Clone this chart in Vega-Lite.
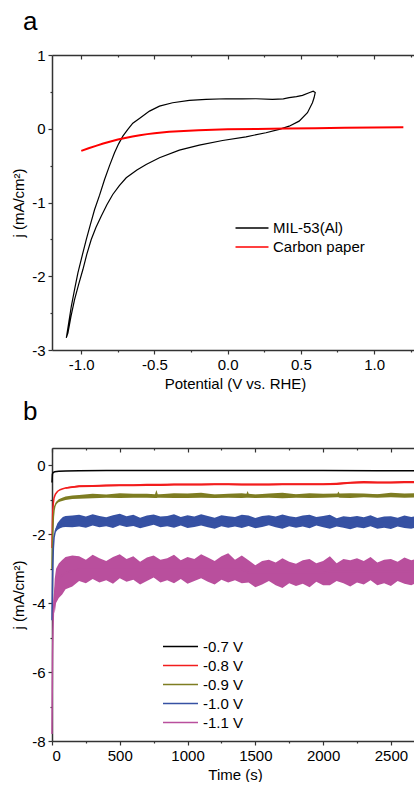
{
  "$schema": "https://vega.github.io/schema/vega-lite/v6.json",
  "padding": {"left": 11, "top": 9, "right": 0, "bottom": 0},
  "config": {
    "view": {"stroke": null},
    "font": "Liberation Sans",
    "axis": {"grid": false, "domainColor": "#333", "domainWidth": 1.5, "tickColor": "#333", "tickWidth": 1.2, "labelColor": "#000", "titleColor": "#000", "labelFont": "Liberation Sans", "titleFont": "Liberation Sans", "labelFontSize": 15, "titleFontSize": 15, "titleFontWeight": "normal"},
    "legend": {"labelFont": "Liberation Sans", "labelFontSize": 15, "labelColor": "#000"},
    "title": {"font": "Liberation Sans", "fontWeight": "normal", "color": "#000"}
  },
  "spacing": 98,
  "bounds": "flush",
  "resolve": {"scale": {"color": "independent"}, "legend": {"color": "independent"}},
  "vconcat": [
    {
      "width": 366, "height": 295,
      "title": {"text": "a", "anchor": "start", "frame": "group", "dx": -29, "fontSize": 26, "baseline": "alphabetic", "offset": -8},
      "resolve": {"axis": {"x": "independent", "y": "independent"}},
      "layer": [
        {
          "data": {"values": [
            {"s":"MIL-53(Al)","i":1,"x":-1.102,"y":-2.836},{"s":"MIL-53(Al)","i":2,"x":-1.085,"y":-2.62},{"s":"MIL-53(Al)","i":3,"x":-1.068,"y":-2.407},{"s":"MIL-53(Al)","i":4,"x":-1.045,"y":-2.17},{"s":"MIL-53(Al)","i":5,"x":-1.023,"y":-1.954},{"s":"MIL-53(Al)","i":6,"x":-0.995,"y":-1.73},{"s":"MIL-53(Al)","i":7,"x":-0.966,"y":-1.502},{"s":"MIL-53(Al)","i":8,"x":-0.938,"y":-1.3},{"s":"MIL-53(Al)","i":9,"x":-0.909,"y":-1.095},{"s":"MIL-53(Al)","i":10,"x":-0.875,"y":-0.9},{"s":"MIL-53(Al)","i":11,"x":-0.841,"y":-0.688},{"s":"MIL-53(Al)","i":12,"x":-0.807,"y":-0.5},{"s":"MIL-53(Al)","i":13,"x":-0.773,"y":-0.326},{"s":"MIL-53(Al)","i":14,"x":-0.745,"y":-0.205},{"s":"MIL-53(Al)","i":15,"x":-0.716,"y":-0.1},{"s":"MIL-53(Al)","i":16,"x":-0.682,"y":-0.01},{"s":"MIL-53(Al)","i":17,"x":-0.648,"y":0.075},{"s":"MIL-53(Al)","i":18,"x":-0.603,"y":0.14},{"s":"MIL-53(Al)","i":19,"x":-0.534,"y":0.239},{"s":"MIL-53(Al)","i":20,"x":-0.466,"y":0.307},{"s":"MIL-53(Al)","i":21,"x":-0.376,"y":0.353},{"s":"MIL-53(Al)","i":22,"x":-0.262,"y":0.384},{"s":"MIL-53(Al)","i":23,"x":-0.148,"y":0.398},{"s":"MIL-53(Al)","i":24,"x":-0.012,"y":0.407},{"s":"MIL-53(Al)","i":25,"x":0.1,"y":0.405},{"s":"MIL-53(Al)","i":26,"x":0.193,"y":0.407},{"s":"MIL-53(Al)","i":27,"x":0.306,"y":0.398},{"s":"MIL-53(Al)","i":28,"x":0.38,"y":0.405},{"s":"MIL-53(Al)","i":29,"x":0.42,"y":0.421},{"s":"MIL-53(Al)","i":30,"x":0.47,"y":0.435},{"s":"MIL-53(Al)","i":31,"x":0.511,"y":0.452},{"s":"MIL-53(Al)","i":32,"x":0.556,"y":0.488},{"s":"MIL-53(Al)","i":33,"x":0.584,"y":0.51},{"s":"MIL-53(Al)","i":34,"x":0.598,"y":0.49},{"s":"MIL-53(Al)","i":35,"x":0.59,"y":0.42},{"s":"MIL-53(Al)","i":36,"x":0.579,"y":0.353},{"s":"MIL-53(Al)","i":37,"x":0.545,"y":0.217},{"s":"MIL-53(Al)","i":38,"x":0.488,"y":0.103},{"s":"MIL-53(Al)","i":39,"x":0.42,"y":0.035},{"s":"MIL-53(Al)","i":40,"x":0.352,"y":-0.009},{"s":"MIL-53(Al)","i":41,"x":0.261,"y":-0.054},{"s":"MIL-53(Al)","i":42,"x":0.125,"y":-0.109},{"s":"MIL-53(Al)","i":43,"x":-0.035,"y":-0.159},{"s":"MIL-53(Al)","i":44,"x":-0.194,"y":-0.223},{"s":"MIL-53(Al)","i":45,"x":-0.33,"y":-0.29},{"s":"MIL-53(Al)","i":46,"x":-0.466,"y":-0.393},{"s":"MIL-53(Al)","i":47,"x":-0.557,"y":-0.484},{"s":"MIL-53(Al)","i":48,"x":-0.62,"y":-0.56},{"s":"MIL-53(Al)","i":49,"x":-0.693,"y":-0.665},{"s":"MIL-53(Al)","i":50,"x":-0.74,"y":-0.77},{"s":"MIL-53(Al)","i":51,"x":-0.785,"y":-0.891},{"s":"MIL-53(Al)","i":52,"x":-0.825,"y":-1.03},{"s":"MIL-53(Al)","i":53,"x":-0.864,"y":-1.186},{"s":"MIL-53(Al)","i":54,"x":-0.9,"y":-1.34},{"s":"MIL-53(Al)","i":55,"x":-0.932,"y":-1.502},{"s":"MIL-53(Al)","i":56,"x":-0.962,"y":-1.7},{"s":"MIL-53(Al)","i":57,"x":-0.989,"y":-1.909},{"s":"MIL-53(Al)","i":58,"x":-1.018,"y":-2.11},{"s":"MIL-53(Al)","i":59,"x":-1.046,"y":-2.316},{"s":"MIL-53(Al)","i":60,"x":-1.07,"y":-2.54},{"s":"MIL-53(Al)","i":61,"x":-1.091,"y":-2.768},{"s":"MIL-53(Al)","i":62,"x":-1.1,"y":-2.82}
          ]},
          "mark": {"type": "line", "strokeWidth": 1.2},
          "encoding": {
            "x": {"field": "x", "type": "quantitative", "scale": {"domain": [-1.2, 1.3], "nice": false, "zero": false},
              "axis": {"orient": "bottom", "title": "Potential (V vs. RHE)", "values": [-1, -0.75, -0.5, -0.25, 0, 0.25, 0.5, 0.75, 1, 1.25], "labelExpr": "abs(datum.value*2 - round(datum.value*2)) < 0.001 ? replace(format(datum.value, '.1f'), '\u2212', '-') : ''", "tickSize": {"condition": {"test": "abs(datum.value*2 - round(datum.value*2)) > 0.001", "value": 2}, "value": 4}, "labelPadding": 3, "titlePadding": 4}},
            "y": {"field": "y", "type": "quantitative", "scale": {"domain": [-3, 1], "nice": false, "zero": false},
              "axis": {"orient": "left", "title": "j (mA/cm\u00b2)", "values": [-3, -2.5, -2, -1.5, -1, -0.5, 0, 0.5, 1], "labelExpr": "abs(datum.value - round(datum.value)) < 0.001 ? replace(format(datum.value, 'd'), '\u2212', '-') : ''", "tickSize": {"condition": {"test": "abs(datum.value - round(datum.value)) > 0.001", "value": 2}, "value": 4}, "labelPadding": 3, "minExtent": 22, "maxExtent": 22, "titlePadding": 4}},
            "order": {"field": "i", "type": "quantitative"},
            "color": {"field": "s", "type": "nominal", "scale": {"domain": ["MIL-53(Al)", "Carbon paper"], "range": ["#000000", "#ff0000"]},
              "legend": {"title": null, "orient": "none", "legendX": 191, "legendY": 164, "symbolType": "M-2,0H2", "symbolSize": 272, "symbolStrokeWidth": 1.5, "labelOffset": 12, "rowPadding": 2, "padding": 0}}
          }
        },
        {
          "data": {"values": [
            {"s":"Carbon paper","i":1,"x":-1.0,"y":-0.3},{"s":"Carbon paper","i":2,"x":-0.95,"y":-0.265},{"s":"Carbon paper","i":3,"x":-0.9,"y":-0.232},{"s":"Carbon paper","i":4,"x":-0.85,"y":-0.2},{"s":"Carbon paper","i":5,"x":-0.8,"y":-0.172},{"s":"Carbon paper","i":6,"x":-0.75,"y":-0.147},{"s":"Carbon paper","i":7,"x":-0.7,"y":-0.125},{"s":"Carbon paper","i":8,"x":-0.65,"y":-0.105},{"s":"Carbon paper","i":9,"x":-0.6,"y":-0.088},{"s":"Carbon paper","i":10,"x":-0.55,"y":-0.073},{"s":"Carbon paper","i":11,"x":-0.5,"y":-0.06},{"s":"Carbon paper","i":12,"x":-0.4,"y":-0.042},{"s":"Carbon paper","i":13,"x":-0.3,"y":-0.03},{"s":"Carbon paper","i":14,"x":-0.2,"y":-0.02},{"s":"Carbon paper","i":15,"x":-0.1,"y":-0.013},{"s":"Carbon paper","i":16,"x":0.0,"y":-0.008},{"s":"Carbon paper","i":17,"x":0.2,"y":-0.002},{"s":"Carbon paper","i":18,"x":0.4,"y":0.003},{"s":"Carbon paper","i":19,"x":0.6,"y":0.008},{"s":"Carbon paper","i":20,"x":0.8,"y":0.012},{"s":"Carbon paper","i":21,"x":1.0,"y":0.016},{"s":"Carbon paper","i":22,"x":1.2,"y":0.02}
          ]},
          "mark": {"type": "line", "strokeWidth": 2},
          "encoding": {
            "x": {"field": "x", "type": "quantitative",
              "axis": {"orient": "top", "title": null, "labels": false, "minExtent": 0, "maxExtent": 0, "values": [-1, -0.75, -0.5, -0.25, 0, 0.25, 0.5, 0.75, 1, 1.25], "tickSize": {"condition": {"test": "abs(datum.value*2 - round(datum.value*2)) > 0.001", "value": -2}, "value": -4}}},
            "y": {"field": "y", "type": "quantitative",
              "axis": {"orient": "right", "title": null, "labels": false, "minExtent": 0, "maxExtent": 0, "values": [-3, -2.5, -2, -1.5, -1, -0.5, 0, 0.5, 1], "tickSize": {"condition": {"test": "abs(datum.value - round(datum.value)) > 0.001", "value": -2}, "value": -4}}},
            "order": {"field": "i", "type": "quantitative"},
            "color": {"field": "s", "type": "nominal", "scale": {"domain": ["MIL-53(Al)", "Carbon paper"], "range": ["#000000", "#ff0000"]},
              "legend": {"title": null, "orient": "none", "legendX": 191, "legendY": 164, "symbolType": "M-2,0H2", "symbolSize": 272, "symbolStrokeWidth": 1.5, "labelOffset": 12, "rowPadding": 2, "padding": 0}}
          }
        }
      ]
    },
    {
      "width": 366, "height": 293,
      "title": {"text": "b", "anchor": "start", "frame": "group", "dx": -29, "fontSize": 26, "baseline": "alphabetic", "offset": 1},
      "resolve": {"axis": {"x": "independent", "y": "independent"}},
      "data": {"values": [
        {"s":"-0.7 V","t":0,"v":-0.5},{"s":"-0.7 V","t":3,"v":-0.26},{"s":"-0.7 V","t":8,"v":-0.21},{"s":"-0.7 V","t":20,"v":-0.19},{"s":"-0.7 V","t":50,"v":-0.175},{"s":"-0.7 V","t":100,"v":-0.165},{"s":"-0.7 V","t":200,"v":-0.16},{"s":"-0.7 V","t":400,"v":-0.155},{"s":"-0.7 V","t":800,"v":-0.15},{"s":"-0.7 V","t":1200,"v":-0.15},{"s":"-0.7 V","t":1600,"v":-0.155},{"s":"-0.7 V","t":2000,"v":-0.155},{"s":"-0.7 V","t":2400,"v":-0.16},{"s":"-0.7 V","t":2700,"v":-0.16},

        {"s":"-0.8 V","t":0,"v":-2.4},{"s":"-0.8 V","t":3,"v":-1.7},{"s":"-0.8 V","t":6,"v":-1.3},{"s":"-0.8 V","t":10,"v":-1.1},{"s":"-0.8 V","t":15,"v":-0.95},{"s":"-0.8 V","t":25,"v":-0.84},{"s":"-0.8 V","t":40,"v":-0.76},{"s":"-0.8 V","t":60,"v":-0.71},{"s":"-0.8 V","t":80,"v":-0.68},
        {"s":"-0.8 V","t":100,"v":-0.66,"lo":-0.68,"hi":-0.64},{"s":"-0.8 V","t":150,"v":-0.63,"lo":-0.66,"hi":-0.61},{"s":"-0.8 V","t":200,"v":-0.61,"lo":-0.64,"hi":-0.58},{"s":"-0.8 V","t":300,"v":-0.6,"lo":-0.63,"hi":-0.57},{"s":"-0.8 V","t":400,"v":-0.59,"lo":-0.62,"hi":-0.56},{"s":"-0.8 V","t":500,"v":-0.58,"lo":-0.61,"hi":-0.55},{"s":"-0.8 V","t":600,"v":-0.58,"lo":-0.61,"hi":-0.55},{"s":"-0.8 V","t":700,"v":-0.57,"lo":-0.6,"hi":-0.54},{"s":"-0.8 V","t":800,"v":-0.57,"lo":-0.6,"hi":-0.54},{"s":"-0.8 V","t":900,"v":-0.56,"lo":-0.59,"hi":-0.53},{"s":"-0.8 V","t":1000,"v":-0.56,"lo":-0.59,"hi":-0.53},{"s":"-0.8 V","t":1100,"v":-0.56,"lo":-0.59,"hi":-0.53},{"s":"-0.8 V","t":1200,"v":-0.55,"lo":-0.58,"hi":-0.52},{"s":"-0.8 V","t":1300,"v":-0.55,"lo":-0.58,"hi":-0.52},{"s":"-0.8 V","t":1400,"v":-0.56,"lo":-0.59,"hi":-0.53},{"s":"-0.8 V","t":1500,"v":-0.56,"lo":-0.59,"hi":-0.53},{"s":"-0.8 V","t":1600,"v":-0.56,"lo":-0.59,"hi":-0.53},{"s":"-0.8 V","t":1700,"v":-0.55,"lo":-0.58,"hi":-0.52},{"s":"-0.8 V","t":1800,"v":-0.55,"lo":-0.58,"hi":-0.52},{"s":"-0.8 V","t":1900,"v":-0.55,"lo":-0.58,"hi":-0.52},{"s":"-0.8 V","t":2000,"v":-0.55,"lo":-0.58,"hi":-0.52},{"s":"-0.8 V","t":2100,"v":-0.54,"lo":-0.57,"hi":-0.51},{"s":"-0.8 V","t":2200,"v":-0.51,"lo":-0.54,"hi":-0.48},{"s":"-0.8 V","t":2300,"v":-0.49,"lo":-0.52,"hi":-0.46},{"s":"-0.8 V","t":2400,"v":-0.5,"lo":-0.53,"hi":-0.47},{"s":"-0.8 V","t":2500,"v":-0.5,"lo":-0.53,"hi":-0.47},{"s":"-0.8 V","t":2600,"v":-0.49,"lo":-0.52,"hi":-0.46},{"s":"-0.8 V","t":2700,"v":-0.49,"lo":-0.52,"hi":-0.46},

        {"s":"-0.9 V","t":0,"v":-3.0},{"s":"-0.9 V","t":3,"v":-2.4},{"s":"-0.9 V","t":6,"v":-1.9},{"s":"-0.9 V","t":10,"v":-1.5},{"s":"-0.9 V","t":15,"v":-1.3},{"s":"-0.9 V","t":20,"v":-1.2},
        {"s":"-0.9 V","t":30,"v":-1.1,"lo":-1.13,"hi":-1.07},{"s":"-0.9 V","t":50,"v":-1.03,"lo":-1.07,"hi":-0.99},{"s":"-0.9 V","t":75,"v":-0.99,"lo":-1.04,"hi":-0.94},{"s":"-0.9 V","t":100,"v":-0.96,"lo":-1.01,"hi":-0.91},{"s":"-0.9 V","t":150,"v":-0.93,"lo":-0.98,"hi":-0.88},{"s":"-0.9 V","t":200,"v":-0.92,"lo":-0.97,"hi":-0.86},{"s":"-0.9 V","t":300,"v":-0.9,"lo":-0.96,"hi":-0.83},{"s":"-0.9 V","t":400,"v":-0.89,"lo":-0.94,"hi":-0.85},{"s":"-0.9 V","t":500,"v":-0.89,"lo":-0.95,"hi":-0.81},{"s":"-0.9 V","t":600,"v":-0.89,"lo":-0.94,"hi":-0.83},{"s":"-0.9 V","t":700,"v":-0.89,"lo":-0.94,"hi":-0.83},{"s":"-0.9 V","t":760,"v":-0.89,"lo":-0.95,"hi":-0.84},{"s":"-0.9 V","t":770,"v":-0.89,"lo":-0.95,"hi":-0.72},{"s":"-0.9 V","t":780,"v":-0.89,"lo":-0.94,"hi":-0.84},{"s":"-0.9 V","t":800,"v":-0.88,"lo":-0.94,"hi":-0.84},{"s":"-0.9 V","t":900,"v":-0.88,"lo":-0.95,"hi":-0.81},{"s":"-0.9 V","t":1000,"v":-0.88,"lo":-0.95,"hi":-0.82},{"s":"-0.9 V","t":1100,"v":-0.88,"lo":-0.94,"hi":-0.8},{"s":"-0.9 V","t":1200,"v":-0.88,"lo":-0.95,"hi":-0.85},{"s":"-0.9 V","t":1300,"v":-0.88,"lo":-0.94,"hi":-0.83},{"s":"-0.9 V","t":1400,"v":-0.88,"lo":-0.95,"hi":-0.81},{"s":"-0.9 V","t":1435,"v":-0.88,"lo":-0.94,"hi":-0.83},{"s":"-0.9 V","t":1443,"v":-0.88,"lo":-0.94,"hi":-0.75},{"s":"-0.9 V","t":1451,"v":-0.88,"lo":-0.94,"hi":-0.83},{"s":"-0.9 V","t":1500,"v":-0.88,"lo":-0.95,"hi":-0.85},{"s":"-0.9 V","t":1600,"v":-0.88,"lo":-0.94,"hi":-0.82},{"s":"-0.9 V","t":1700,"v":-0.88,"lo":-0.96,"hi":-0.8},{"s":"-0.9 V","t":1800,"v":-0.88,"lo":-0.94,"hi":-0.84},{"s":"-0.9 V","t":1900,"v":-0.88,"lo":-0.95,"hi":-0.81},{"s":"-0.9 V","t":2000,"v":-0.88,"lo":-0.94,"hi":-0.83},{"s":"-0.9 V","t":2105,"v":-0.87,"lo":-0.93,"hi":-0.82},{"s":"-0.9 V","t":2113,"v":-0.87,"lo":-0.93,"hi":-0.76},{"s":"-0.9 V","t":2121,"v":-0.87,"lo":-0.94,"hi":-0.82},{"s":"-0.9 V","t":2200,"v":-0.87,"lo":-0.95,"hi":-0.81},{"s":"-0.9 V","t":2300,"v":-0.87,"lo":-0.93,"hi":-0.82},{"s":"-0.9 V","t":2400,"v":-0.87,"lo":-0.94,"hi":-0.84},{"s":"-0.9 V","t":2500,"v":-0.87,"lo":-0.93,"hi":-0.8},{"s":"-0.9 V","t":2600,"v":-0.87,"lo":-0.94,"hi":-0.82},{"s":"-0.9 V","t":2700,"v":-0.87,"lo":-0.93,"hi":-0.81},

        {"s":"-1.0 V","t":0,"v":-4.5},{"s":"-1.0 V","t":3,"v":-3.6},{"s":"-1.0 V","t":6,"v":-2.9},{"s":"-1.0 V","t":10,"v":-2.4},{"s":"-1.0 V","t":15,"v":-2.1},
        {"s":"-1.0 V","t":25,"v":-1.9,"lo":-1.96,"hi":-1.84},{"s":"-1.0 V","t":40,"v":-1.78,"lo":-1.88,"hi":-1.68},{"s":"-1.0 V","t":60,"v":-1.7,"lo":-1.83,"hi":-1.58},{"s":"-1.0 V","t":80,"v":-1.66,"lo":-1.8,"hi":-1.5},{"s":"-1.0 V","t":100,"v":-1.64,"lo":-1.79,"hi":-1.47},{"s":"-1.0 V","t":150,"v":-1.63,"lo":-1.8,"hi":-1.46},
        {"s":"-1.0 V","t":200,"v":-1.62,"lo":-1.78,"hi":-1.44},{"s":"-1.0 V","t":250,"v":-1.62,"lo":-1.81,"hi":-1.49},{"s":"-1.0 V","t":300,"v":-1.62,"lo":-1.75,"hi":-1.42},{"s":"-1.0 V","t":350,"v":-1.62,"lo":-1.8,"hi":-1.47},{"s":"-1.0 V","t":400,"v":-1.62,"lo":-1.77,"hi":-1.51},{"s":"-1.0 V","t":450,"v":-1.62,"lo":-1.82,"hi":-1.45},{"s":"-1.0 V","t":500,"v":-1.62,"lo":-1.74,"hi":-1.41},{"s":"-1.0 V","t":550,"v":-1.62,"lo":-1.79,"hi":-1.48},{"s":"-1.0 V","t":600,"v":-1.62,"lo":-1.76,"hi":-1.44},{"s":"-1.0 V","t":650,"v":-1.62,"lo":-1.83,"hi":-1.52},{"s":"-1.0 V","t":700,"v":-1.62,"lo":-1.78,"hi":-1.46},{"s":"-1.0 V","t":750,"v":-1.62,"lo":-1.73,"hi":-1.43},{"s":"-1.0 V","t":800,"v":-1.62,"lo":-1.8,"hi":-1.49},{"s":"-1.0 V","t":850,"v":-1.62,"lo":-1.77,"hi":-1.47},{"s":"-1.0 V","t":900,"v":-1.62,"lo":-1.81,"hi":-1.42},{"s":"-1.0 V","t":950,"v":-1.62,"lo":-1.75,"hi":-1.5},{"s":"-1.0 V","t":1000,"v":-1.62,"lo":-1.82,"hi":-1.45},{"s":"-1.0 V","t":1050,"v":-1.63,"lo":-1.79,"hi":-1.49},{"s":"-1.0 V","t":1100,"v":-1.63,"lo":-1.75,"hi":-1.42},{"s":"-1.0 V","t":1150,"v":-1.63,"lo":-1.8,"hi":-1.47},{"s":"-1.0 V","t":1200,"v":-1.63,"lo":-1.84,"hi":-1.52},{"s":"-1.0 V","t":1250,"v":-1.63,"lo":-1.77,"hi":-1.45},{"s":"-1.0 V","t":1300,"v":-1.63,"lo":-1.81,"hi":-1.48},{"s":"-1.0 V","t":1350,"v":-1.63,"lo":-1.78,"hi":-1.5},{"s":"-1.0 V","t":1400,"v":-1.63,"lo":-1.82,"hi":-1.44},{"s":"-1.0 V","t":1450,"v":-1.63,"lo":-1.76,"hi":-1.46},{"s":"-1.0 V","t":1500,"v":-1.63,"lo":-1.83,"hi":-1.53},{"s":"-1.0 V","t":1550,"v":-1.63,"lo":-1.79,"hi":-1.47},{"s":"-1.0 V","t":1600,"v":-1.63,"lo":-1.74,"hi":-1.45},{"s":"-1.0 V","t":1650,"v":-1.63,"lo":-1.8,"hi":-1.49},{"s":"-1.0 V","t":1700,"v":-1.63,"lo":-1.84,"hi":-1.43},{"s":"-1.0 V","t":1750,"v":-1.63,"lo":-1.77,"hi":-1.48},{"s":"-1.0 V","t":1800,"v":-1.63,"lo":-1.81,"hi":-1.51},{"s":"-1.0 V","t":1850,"v":-1.63,"lo":-1.78,"hi":-1.46},{"s":"-1.0 V","t":1900,"v":-1.63,"lo":-1.83,"hi":-1.44},{"s":"-1.0 V","t":1950,"v":-1.63,"lo":-1.75,"hi":-1.5},{"s":"-1.0 V","t":2000,"v":-1.63,"lo":-1.8,"hi":-1.47},{"s":"-1.0 V","t":2050,"v":-1.65,"lo":-1.84,"hi":-1.44},{"s":"-1.0 V","t":2100,"v":-1.65,"lo":-1.78,"hi":-1.54},{"s":"-1.0 V","t":2150,"v":-1.65,"lo":-1.81,"hi":-1.48},{"s":"-1.0 V","t":2200,"v":-1.65,"lo":-1.86,"hi":-1.5},{"s":"-1.0 V","t":2250,"v":-1.65,"lo":-1.8,"hi":-1.47},{"s":"-1.0 V","t":2300,"v":-1.65,"lo":-1.83,"hi":-1.51},{"s":"-1.0 V","t":2350,"v":-1.65,"lo":-1.77,"hi":-1.45},{"s":"-1.0 V","t":2400,"v":-1.65,"lo":-1.84,"hi":-1.53},{"s":"-1.0 V","t":2450,"v":-1.65,"lo":-1.81,"hi":-1.49},{"s":"-1.0 V","t":2500,"v":-1.65,"lo":-1.85,"hi":-1.48},{"s":"-1.0 V","t":2550,"v":-1.65,"lo":-1.78,"hi":-1.52},{"s":"-1.0 V","t":2600,"v":-1.65,"lo":-1.82,"hi":-1.46},{"s":"-1.0 V","t":2650,"v":-1.65,"lo":-1.84,"hi":-1.5},{"s":"-1.0 V","t":2700,"v":-1.65,"lo":-1.8,"hi":-1.47},

        {"s":"-1.1 V","t":0,"v":-7.8},{"s":"-1.1 V","t":2,"v":-6.5},{"s":"-1.1 V","t":4,"v":-5.5},{"s":"-1.1 V","t":7,"v":-4.8},{"s":"-1.1 V","t":10,"v":-4.3},
        {"s":"-1.1 V","t":15,"v":-3.9,"lo":-4.1,"hi":-3.7},{"s":"-1.1 V","t":20,"v":-3.7,"lo":-4.3,"hi":-3.3},{"s":"-1.1 V","t":30,"v":-3.45,"lo":-4.0,"hi":-3.0},{"s":"-1.1 V","t":50,"v":-3.3,"lo":-3.85,"hi":-2.85},{"s":"-1.1 V","t":75,"v":-3.2,"lo":-3.75,"hi":-2.75},{"s":"-1.1 V","t":100,"v":-3.12,"lo":-3.6,"hi":-2.66},{"s":"-1.1 V","t":150,"v":-3.07,"lo":-3.52,"hi":-2.62},
        {"s":"-1.1 V","t":200,"v":-3.02,"lo":-3.36,"hi":-2.64},{"s":"-1.1 V","t":250,"v":-3.02,"lo":-3.42,"hi":-2.74},{"s":"-1.1 V","t":300,"v":-3.02,"lo":-3.3,"hi":-2.6},{"s":"-1.1 V","t":350,"v":-3.02,"lo":-3.4,"hi":-2.7},{"s":"-1.1 V","t":400,"v":-3.02,"lo":-3.34,"hi":-2.78},{"s":"-1.1 V","t":450,"v":-3.02,"lo":-3.44,"hi":-2.66},{"s":"-1.1 V","t":500,"v":-3.02,"lo":-3.28,"hi":-2.58},{"s":"-1.1 V","t":550,"v":-3.02,"lo":-3.38,"hi":-2.72},{"s":"-1.1 V","t":600,"v":-3.02,"lo":-3.32,"hi":-2.64},{"s":"-1.1 V","t":650,"v":-3.02,"lo":-3.46,"hi":-2.8},{"s":"-1.1 V","t":700,"v":-3.02,"lo":-3.36,"hi":-2.68},{"s":"-1.1 V","t":750,"v":-3.02,"lo":-3.26,"hi":-2.62},{"s":"-1.1 V","t":800,"v":-3.02,"lo":-3.4,"hi":-2.74},{"s":"-1.1 V","t":850,"v":-3.02,"lo":-3.34,"hi":-2.7},{"s":"-1.1 V","t":900,"v":-3.02,"lo":-3.42,"hi":-2.6},{"s":"-1.1 V","t":950,"v":-3.02,"lo":-3.3,"hi":-2.76},{"s":"-1.1 V","t":1000,"v":-3.02,"lo":-3.44,"hi":-2.66},{"s":"-1.1 V","t":1050,"v":-3.02,"lo":-3.36,"hi":-2.72},{"s":"-1.1 V","t":1100,"v":-3.02,"lo":-3.28,"hi":-2.58},{"s":"-1.1 V","t":1150,"v":-3.02,"lo":-3.38,"hi":-2.68},{"s":"-1.1 V","t":1200,"v":-3.02,"lo":-3.46,"hi":-2.78},{"s":"-1.1 V","t":1250,"v":-3.02,"lo":-3.32,"hi":-2.64},{"s":"-1.1 V","t":1300,"v":-3.02,"lo":-3.4,"hi":-2.55},{"s":"-1.1 V","t":1350,"v":-3.02,"lo":-3.34,"hi":-2.74},{"s":"-1.1 V","t":1400,"v":-3.02,"lo":-3.42,"hi":-2.62},{"s":"-1.1 V","t":1450,"v":-3.12,"lo":-3.4,"hi":-2.76},{"s":"-1.1 V","t":1500,"v":-3.12,"lo":-3.54,"hi":-2.9},{"s":"-1.1 V","t":1550,"v":-3.12,"lo":-3.46,"hi":-2.78},{"s":"-1.1 V","t":1600,"v":-3.12,"lo":-3.36,"hi":-2.74},{"s":"-1.1 V","t":1650,"v":-3.12,"lo":-3.48,"hi":-2.82},{"s":"-1.1 V","t":1700,"v":-3.12,"lo":-3.56,"hi":-2.7},{"s":"-1.1 V","t":1750,"v":-3.12,"lo":-3.42,"hi":-2.8},{"s":"-1.1 V","t":1800,"v":-3.12,"lo":-3.5,"hi":-2.86},{"s":"-1.1 V","t":1850,"v":-3.12,"lo":-3.44,"hi":-2.76},{"s":"-1.1 V","t":1900,"v":-3.12,"lo":-3.54,"hi":-2.72},{"s":"-1.1 V","t":1950,"v":-3.12,"lo":-3.38,"hi":-2.84},{"s":"-1.1 V","t":2000,"v":-3.12,"lo":-3.48,"hi":-2.78},{"s":"-1.1 V","t":2050,"v":-3.08,"lo":-3.48,"hi":-2.64},{"s":"-1.1 V","t":2100,"v":-3.08,"lo":-3.36,"hi":-2.84},{"s":"-1.1 V","t":2150,"v":-3.08,"lo":-3.42,"hi":-2.72},{"s":"-1.1 V","t":2200,"v":-3.08,"lo":-3.52,"hi":-2.76},{"s":"-1.1 V","t":2250,"v":-3.08,"lo":-3.4,"hi":-2.7},{"s":"-1.1 V","t":2300,"v":-3.08,"lo":-3.46,"hi":-2.78},{"s":"-1.1 V","t":2350,"v":-3.08,"lo":-3.34,"hi":-2.66},{"s":"-1.1 V","t":2400,"v":-3.08,"lo":-3.48,"hi":-2.82},{"s":"-1.1 V","t":2450,"v":-3.08,"lo":-3.42,"hi":-2.74},{"s":"-1.1 V","t":2500,"v":-3.08,"lo":-3.5,"hi":-2.72},{"s":"-1.1 V","t":2550,"v":-3.08,"lo":-3.36,"hi":-2.8},{"s":"-1.1 V","t":2600,"v":-3.08,"lo":-3.44,"hi":-2.68},{"s":"-1.1 V","t":2650,"v":-3.08,"lo":-3.48,"hi":-2.76},{"s":"-1.1 V","t":2700,"v":-3.08,"lo":-3.4,"hi":-2.7}
      ]},
      "layer": [
        {
          "transform": [{"filter": "isValid(datum.lo)"}],
          "mark": {"type": "area", "opacity": 1},
          "encoding": {
            "x": {"field": "t", "type": "quantitative", "scale": {"domain": [0, 2700], "nice": false, "zero": false},
              "axis": {"orient": "bottom", "title": "Time (s)", "values": [0, 250, 500, 750, 1000, 1250, 1500, 1750, 2000, 2250, 2500], "labelExpr": "datum.value % 500 === 0 ? format(datum.value, 'd') : ''", "tickSize": {"condition": {"test": "datum.value % 500 !== 0", "value": 2}, "value": 4}, "labelPadding": 3, "titlePadding": 4}},
            "y": {"field": "lo", "type": "quantitative", "scale": {"domain": [-8, 0.5], "nice": false, "zero": false},
              "axis": {"orient": "left", "title": "j (mA/cm\u00b2)", "values": [-8, -7, -6, -5, -4, -3, -2, -1, 0], "labelExpr": "datum.value % 2 === 0 ? replace(format(datum.value, 'd'), '\u2212', '-') : ''", "tickSize": {"condition": {"test": "datum.value % 2 !== 0", "value": 2}, "value": 4}, "labelPadding": 3, "minExtent": 22, "maxExtent": 22, "titlePadding": 4}},
            "y2": {"field": "hi"},
            "fill": {"field": "s", "type": "nominal", "scale": {"domain": ["-0.7 V", "-0.8 V", "-0.9 V", "-1.0 V", "-1.1 V"], "range": ["#000000", "#f21d1d", "#7e7d22", "#3651a3", "#b94f9d"]}, "legend": null}
          }
        },
        {
          "mark": {"type": "line", "strokeWidth": 1.5},
          "encoding": {
            "x": {"field": "t", "type": "quantitative",
              "axis": {"orient": "top", "title": null, "labels": false, "minExtent": 0, "maxExtent": 0, "values": [0, 250, 500, 750, 1000, 1250, 1500, 1750, 2000, 2250, 2500], "tickSize": {"condition": {"test": "datum.value % 500 !== 0", "value": -2}, "value": -4}}},
            "y": {"field": "v", "type": "quantitative",
              "axis": {"orient": "right", "title": null, "labels": false, "minExtent": 0, "maxExtent": 0, "values": [-8, -7, -6, -5, -4, -3, -2, -1, 0], "tickSize": {"condition": {"test": "datum.value % 2 !== 0", "value": -2}, "value": -4}}},
            "color": {"field": "s", "type": "nominal", "scale": {"domain": ["-0.7 V", "-0.8 V", "-0.9 V", "-1.0 V", "-1.1 V"], "range": ["#000000", "#f21d1d", "#7e7d22", "#3651a3", "#b94f9d"]},
              "legend": {"title": null, "orient": "none", "legendX": 119, "legendY": 189, "symbolType": "M-2,0H2", "symbolSize": 306, "symbolStrokeWidth": 1.5, "labelOffset": 13, "rowPadding": 1, "padding": 0}}
          }
        }
      ]
    }
  ]
}
